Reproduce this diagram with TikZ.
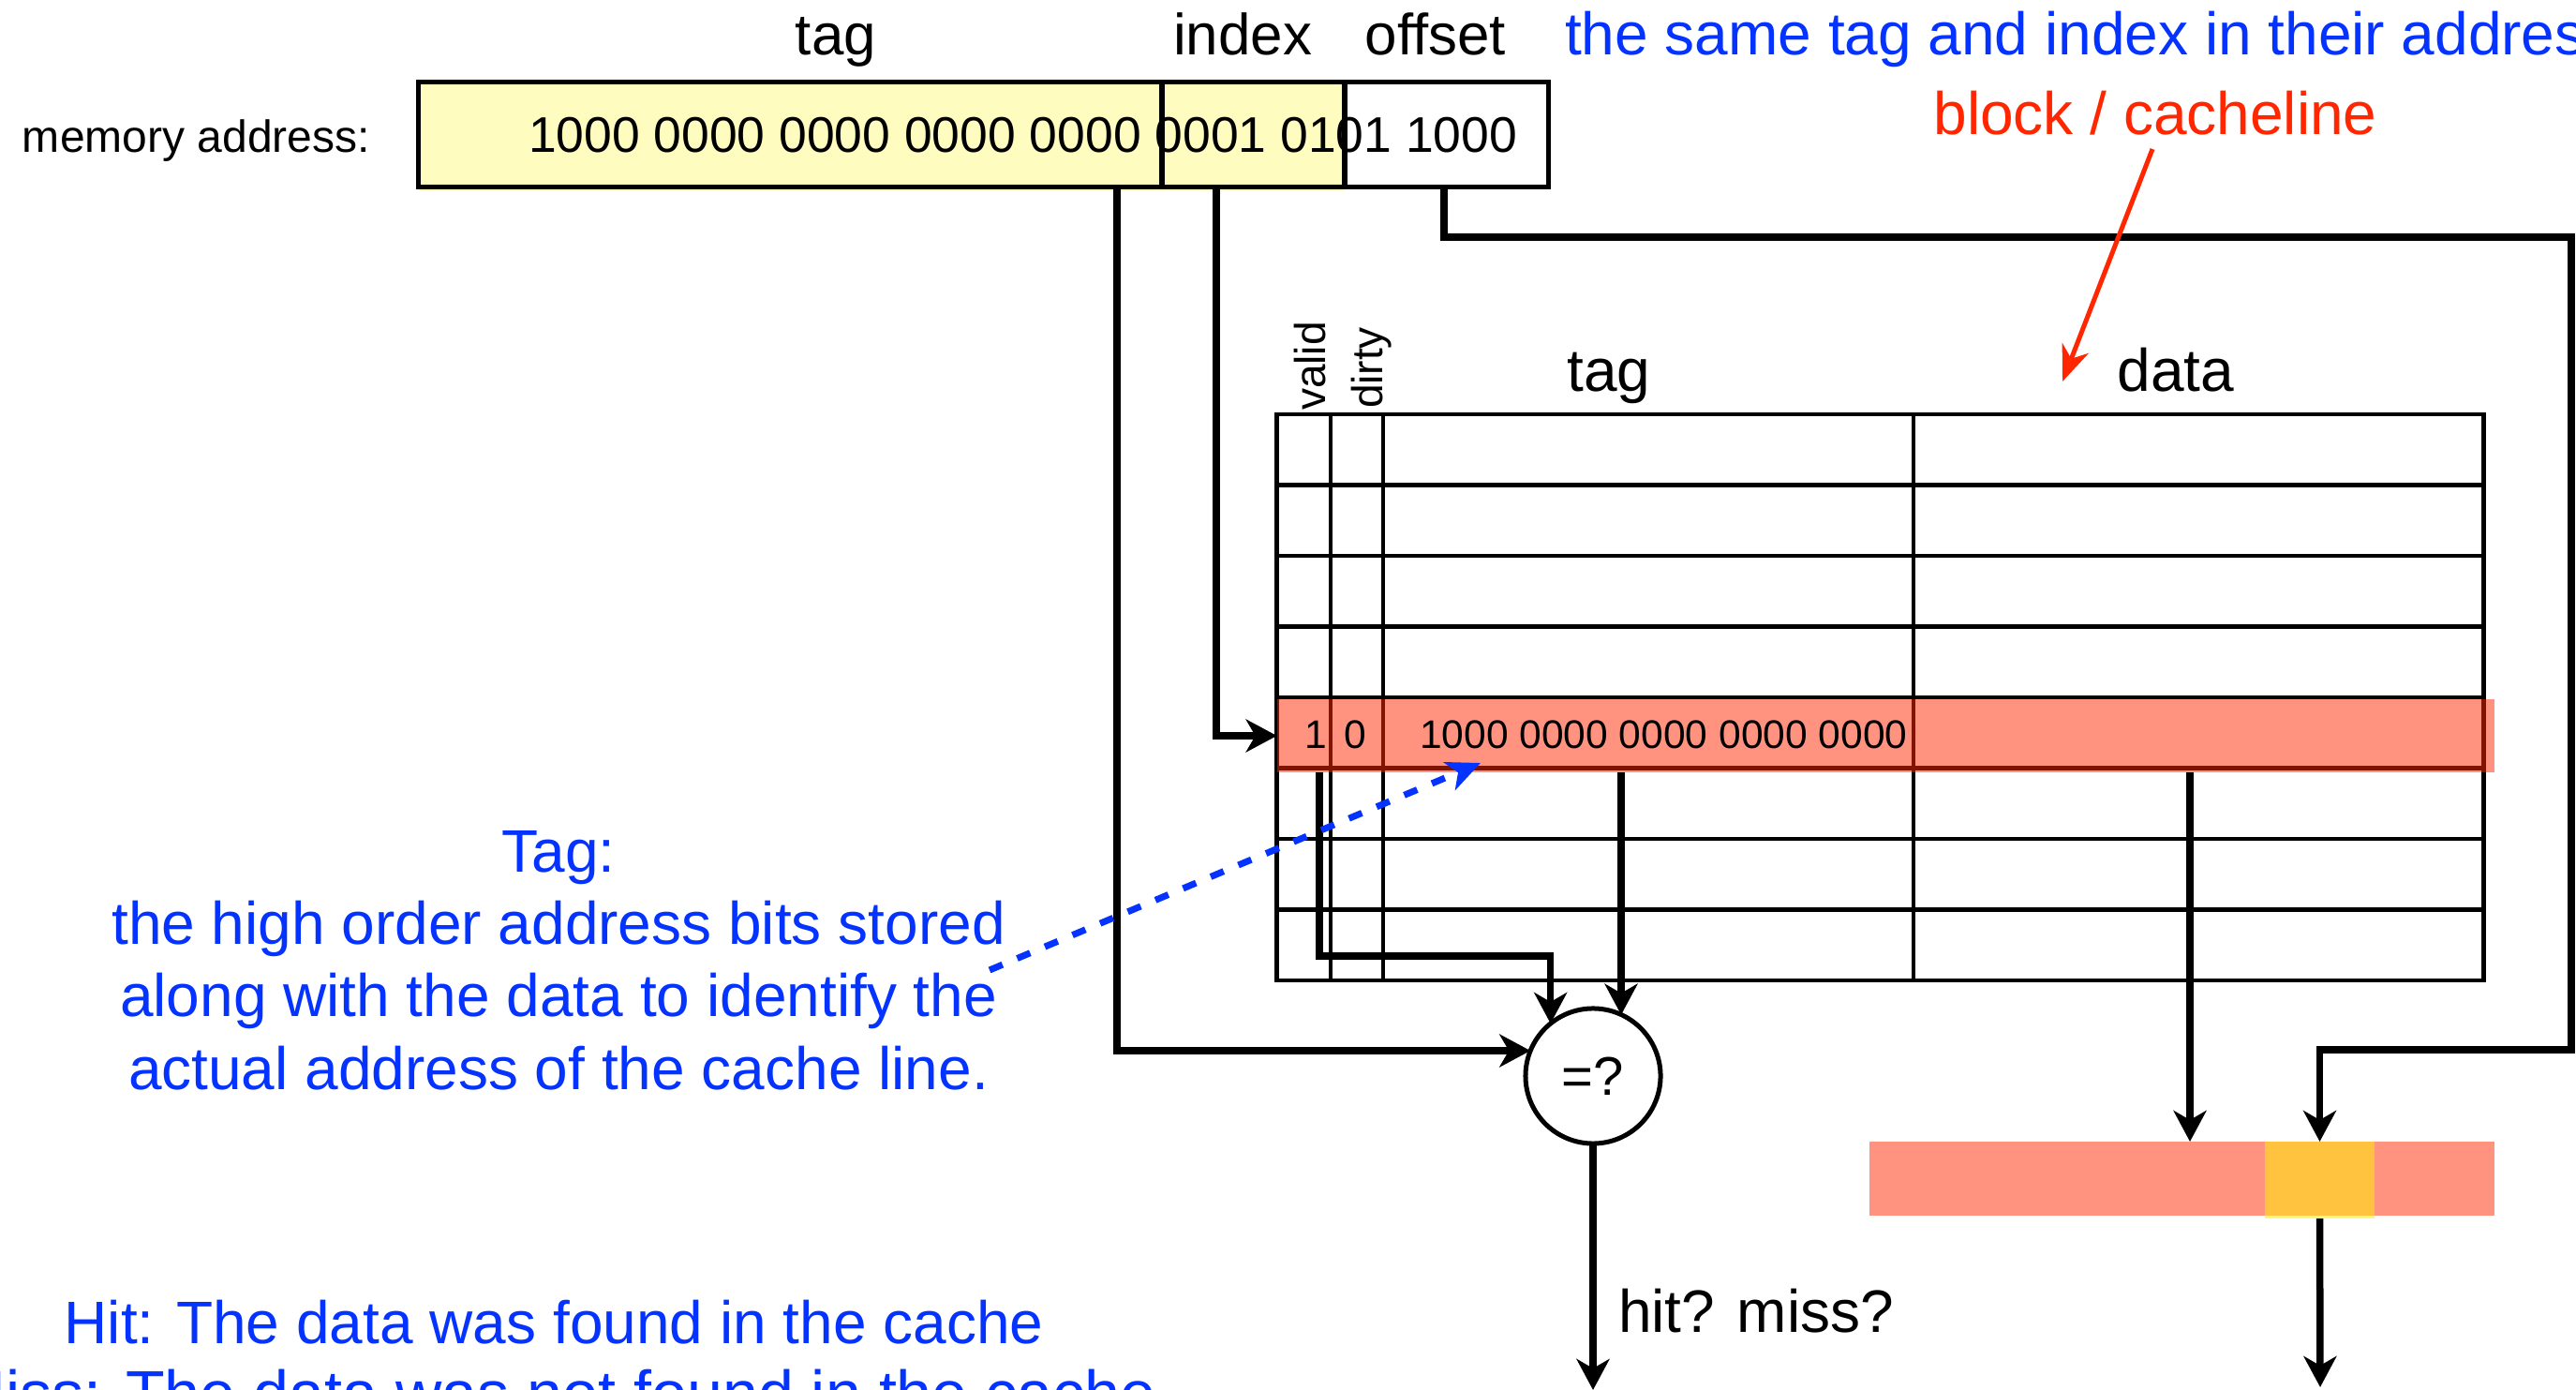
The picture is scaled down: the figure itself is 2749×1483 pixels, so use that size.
\documentclass[tikz,border=0pt]{standalone}
\usepackage{fontspec}
\setmainfont{Liberation Sans}
\usetikzlibrary{arrows.meta}

\definecolor{addryellow}{RGB}{255,252,192}
\definecolor{kblue}{RGB}{4,51,255}
\definecolor{kred}{RGB}{255,38,0}
\definecolor{hlred}{RGB}{255,40,0}
\definecolor{salmon}{RGB}{255,147,128}
\definecolor{wordyellow}{RGB}{255,238,7}

\begin{document}
\begin{tikzpicture}[x=0.01cm, y=-0.01cm,
  every node/.style={inner sep=0pt, outer sep=0pt},
  txt/.style={font=\fontsize{18.2pt}{21.9pt}\selectfont},
  hdr/.style={font=\fontsize{17.6pt}{21pt}\selectfont},
  rowtxt/.style={font=\fontsize{12.1pt}{14pt}\selectfont},
  bitlbl/.style={rotate=90, anchor=base west, font=\fontsize{13.1pt}{15pt}\selectfont},
  field/.style={draw, line width=0.05cm, minimum height=1.11cm},
  tabline/.style={line width=0.045cm},
  conn/.style={line width=0.075cm, -{Stealth[length=0.33cm,width=0.35cm,inset=0.1cm]}},
  redptr/.style={kred, line width=0.05cm, -{Stealth[length=0.38cm,width=0.3cm,inset=0.12cm]}},
  blueptr/.style={kblue, line width=0.07cm, dash pattern=on 0.15cm off 0.17cm,
                  -{Stealth[length=0.36cm,width=0.32cm,inset=0.1cm]}}]

\useasboundingbox (0,0) rectangle (2749,1483);
\clip (0,0) rectangle (2749,1483);

% ---- memory address split into tag / index / offset ----
\fill[addryellow] (447,88) rectangle (1435,204);
\node[field, minimum width=7.93cm] (ftag) at (843.5,143.5) {};
\node[field, minimum width=1.95cm] (findex) at (1337.5,143.5) {};
\node[field, minimum width=2.17cm] (foffset) at (1543.5,143.5) {};
\node[anchor=base west, font=\fontsize{13.66pt}{16pt}\selectfont] (addrlbl) at (24,163) {memory address:};
\node[anchor=base west, font=\fontsize{15.2pt}{18pt}\selectfont] (addrbits) at (564,163) {1000 0000 0000 0000 0000 0001 0101 1000};
\node[hdr, anchor=base] (htag) at (892,59) {tag};
\node[hdr, anchor=base] (hindex) at (1326,59) {index};
\node[hdr, anchor=base] (hoffset) at (1532,59) {offset};
\node[txt, anchor=base west, text=kblue] (samenote) at (1670,59) {the same tag and index in their address};
\node[txt, anchor=base, text=kred] (blk) at (2300,144) {block / cacheline};

% ---- cache array ----
\node[draw, tabline, minimum width=12.87cm, minimum height=6.04cm] (cache) at (2006.5,744) {};
\foreach \r in {1,...,7}
  \draw[tabline] (1363,{442+75.5*\r}) -- (2650,{442+75.5*\r});
\foreach \c in {1420,1476,2042}
  \draw[tabline] (\c,442) -- (\c,1046);
\node[txt, anchor=base] (ctag) at (1717,418) {tag};
\node[txt, anchor=base] (cdata) at (2322,418) {data};
\node[bitlbl] (lvalid) at (1414,438) {valid};
\node[bitlbl] (ldirty) at (1475,436) {dirty};

% selected line
\node[fill=hlred, fill opacity=0.5, minimum width=12.99cm, minimum height=0.78cm] (hitrow) at (2012.5,785) {};
\node[rowtxt, anchor=base] (vbit) at (1404,799) {1};
\node[rowtxt, anchor=base] (dbit) at (1446,799) {0};
\node[rowtxt, anchor=base west] (tbits) at (1515,799) {1000 0000 0000 0000 0000};

% ---- comparator and data word ----
\node[draw, circle, line width=0.05cm, minimum size=1.44cm,
      font=\fontsize{16.5pt}{19pt}\selectfont] (cmp) at (1700,1148) {=?};
\node[fill=salmon, minimum width=6.67cm, minimum height=0.79cm] (dline) at (2328.5,1257.5) {};
\node[fill=wordyellow, fill opacity=0.53, minimum width=1.17cm, minimum height=0.82cm] (word) at (2475.5,1259) {};
\node[txt, anchor=base west] (hm) at (1727,1421) {hit? miss?};

% ---- connectors ----
\coordinate (tagtap) at (1192,199);
\coordinate (idxtap) at (1298,199);
\coordinate (offtap) at (1541,199);
\coordinate (vtap) at (1408,824);
\coordinate (ttap) at (1730,824);
\coordinate (dtap) at (2337,824);
\coordinate (hitout) at (1700,1483);
\coordinate (wordout) at (2476,1480);

\draw[conn] (tagtap) |- (cmp.158.8);
\draw[conn] (idxtap) |- (hitrow.west);
\draw[conn] (offtap) |- (2744,253) -- (2744,1120) -| (word.north);
\draw[conn] (vtap) -- (1408,1020) -| (cmp.129.7);
\draw[conn] (ttap) -- (ttap |- cmp.65.4);
\draw[conn] (dtap) -- (dtap |- dline.north);
\draw[conn] (cmp.south) -- (hitout);
\draw[conn] (word.south) -- (wordout);

% ---- annotations ----
\coordinate (blktail) at (2297,159);
\coordinate (blktip) at (2201,407);
\draw[redptr] (blktail) -- (blktip);

% the base anchor of a multi-line node sits on its last line
\node[txt, text=kblue, align=center, anchor=base] (tagnote) at (596,1162)
  {Tag:\\the high order address bits stored\\along with the data to identify the\\actual address of the cache line.};
\coordinate (tagtail) at (1056,1035);
\coordinate (tagtip) at (1580,814);
\draw[blueptr] (tagtail) -- (tagtip);

\node[txt, text=kblue, anchor=base] (hitnote) at (591,1433) {Hit: The data was found in the cache};
\node[font=\fontsize{19.4pt}{23pt}\selectfont, text=kblue, anchor=base east] (missnote) at (1234,1510)
  {Miss: The data was not found in the cache};
\end{tikzpicture}
\end{document}
